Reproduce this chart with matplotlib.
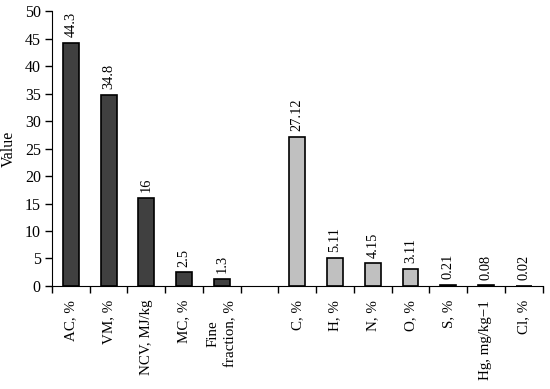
import numpy as np
import matplotlib
matplotlib.use("Agg")
import matplotlib.pyplot as plt

plt.rcParams['font.family'] = ['Liberation Serif', 'DejaVu Serif']

labels = ["AC, %", "VM, %", "NCV, MJ/kg", "MC, %", "Fine\nfraction, %", "",
          "C, %", "H, %", "N, %", "O, %", "S, %", "Hg, mg/kg\u22121", "Cl, %"]
values = [44.3, 34.8, 16, 2.5, 1.3, None,
          27.12, 5.11, 4.15, 3.11, 0.21, 0.08, 0.02]
value_text = ["44.3", "34.8", "16", "2.5", "1.3", "",
              "27.12", "5.11", "4.15", "3.11", "0.21", "0.08", "0.02"]
colors = ["#404040"] * 6 + ["#c0c0c0"] * 7

fig = plt.figure(figsize=(5.5, 3.89), dpi=100)
ax = fig.add_axes([0.0945, 0.265, 0.892, 0.706])

x = np.arange(len(labels))
for i, v in enumerate(values):
    if v is None:
        continue
    ax.bar(x[i], v, width=0.42, color=colors[i], edgecolor="black", linewidth=1.2)
    ax.annotate(value_text[i], (x[i], v), xytext=(0, 4), textcoords="offset points",
                rotation=90, ha="center", va="bottom", fontsize=10.4)

ax.set_xlim(-0.5, len(labels) - 0.5)
ax.set_ylim(0, 50)
ax.set_yticks(np.arange(0, 51, 5))
ax.set_xticks(x)
ax.set_xticklabels(labels, rotation=90, fontsize=10.8, va="top", ha="center", linespacing=1.55)
ax.set_xticks(np.arange(-0.5, len(labels)), minor=True)
ax.tick_params(axis="x", which="major", length=0, pad=10)
ax.tick_params(axis="x", which="minor", length=5, direction="out", width=1)
ax.tick_params(axis="y", length=5, width=1, labelsize=11.5, pad=3)
ax.spines["top"].set_visible(False)
ax.spines["right"].set_visible(False)
ax.set_ylabel("Value", fontsize=11.5, labelpad=6)

fig.savefig("out.png", dpi=100)
